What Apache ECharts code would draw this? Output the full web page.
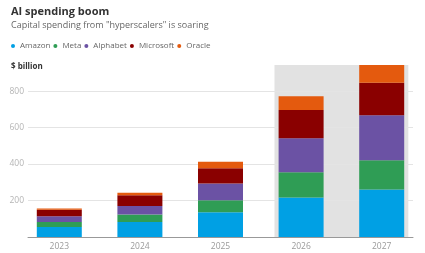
<!DOCTYPE html>
<html>
<head>
<meta charset="utf-8">
<script src="https://cdn.jsdelivr.net/npm/echarts@6/dist/echarts.min.js"></script>
<style>
  html, body { margin: 0; padding: 0; background: #fff; }
  #main { width: 425px; height: 253px; }
</style>
</head>
<body>
<div id="main"></div>
<script>
// capex by company, $ billion (2026-27 are forecasts, shaded)
const years = ['2023', '2024', '2025', '2026', '2027'];
const amazon = [55, 82, 136, 216, 260];
const meta = [27, 41, 66, 139, 161];
const alphabet = [32, 47, 92, 187, 246];
const microsoft = [36, 59, 83, 154, 179];
const oracle = [6, 13, 36, 75, 97];
const yMax = 943;
const yStep = 200;
const forecastYears = ['2026', '2027'];

const companies = [
  { name: 'Amazon', data: amazon, color: '#00a0e4' },
  { name: 'Meta', data: meta, color: '#2f9d55' },
  { name: 'Alphabet', data: alphabet, color: '#6b52a4' },
  { name: 'Microsoft', data: microsoft, color: '#8a0000' },
  { name: 'Oracle', data: oracle, color: '#e45a0e' }
];

const chart = echarts.init(document.getElementById('main'), null, { renderer: 'canvas' });

const font = '"Open Sans", sans-serif';
const shadeFrom = years.indexOf(forecastYears[0]) - 0.33;
const shadeTo = years.indexOf(forecastYears[forecastYears.length - 1]) + 0.33;

const series = companies.map(c => ({
  name: c.name,
  type: 'bar',
  stack: 'capex',
  xAxisIndex: 0,
  yAxisIndex: 0,
  barWidth: 45,
  itemStyle: { color: c.color },
  data: c.data,
  z: 3
}));

// forecast shading
series.push({
  type: 'line',
  xAxisIndex: 1,
  yAxisIndex: 0,
  data: [],
  silent: true,
  markArea: {
    silent: true,
    z: -1,
    itemStyle: { color: '#e2e2e2' },
    data: [[{ xAxis: shadeFrom, yAxis: 0 }, { xAxis: shadeTo, yAxis: yMax }]]
  }
});

const option = {
  animation: false,
  backgroundColor: '#fff',
  textStyle: { fontFamily: font },
  title: [
    { text: 'AI spending boom', left: 11, top: 6, padding: 0,
      textStyle: { fontSize: 11, fontWeight: 'bold', color: '#333', fontFamily: font } },
    { text: 'Capital spending from "hyperscalers" is soaring', left: 11, top: 21, padding: 0,
      textStyle: { fontSize: 9, fontWeight: 'normal', color: '#666', fontFamily: font } },
    { text: '$ billion', left: 11, top: 63, padding: 0,
      textStyle: { fontSize: 8, fontWeight: 'bold', color: '#333', fontFamily: font } }
  ],
  legend: {
    left: 11,
    top: 42,
    padding: 0,
    icon: 'circle',
    itemWidth: 4,
    itemHeight: 4,
    itemGap: 3,
    textStyle: { fontSize: 8, color: '#666', fontFamily: font },
    data: companies.map(c => c.name)
  },
  grid: [
    { left: 19, right: 3, top: 65, bottom: 16 },
    { left: 28, right: 12, top: 65, bottom: 16 }
  ],
  xAxis: [
    {
      type: 'category', gridIndex: 0, data: years,
      axisLine: { show: false }, axisTick: { show: false },
      axisLabel: { color: '#9a9a9a', fontSize: 8.5, margin: 5, fontFamily: font }
    },
    { type: 'value', gridIndex: 0, min: -0.5, max: years.length - 0.5, show: false },
    {
      type: 'category', gridIndex: 1, data: years,
      axisLine: { lineStyle: { color: '#999', width: 1 } },
      axisTick: { show: false }, axisLabel: { show: false }
    }
  ],
  yAxis: [
    { type: 'value', gridIndex: 0, min: 0, max: yMax, show: false },
    {
      type: 'value', gridIndex: 1, min: 0, max: yMax, interval: yStep,
      axisLine: { show: false }, axisTick: { show: false },
      axisLabel: { color: '#b5b5b5', fontSize: 8.5, margin: 4, showMinLabel: false, showMaxLabel: false, fontFamily: font },
      splitLine: { showMinLine: false, showMaxLine: false, lineStyle: { color: '#e4e4e4', width: 1 } }
    }
  ],
  series: series
};

chart.setOption(option);
</script>
</body>
</html>
